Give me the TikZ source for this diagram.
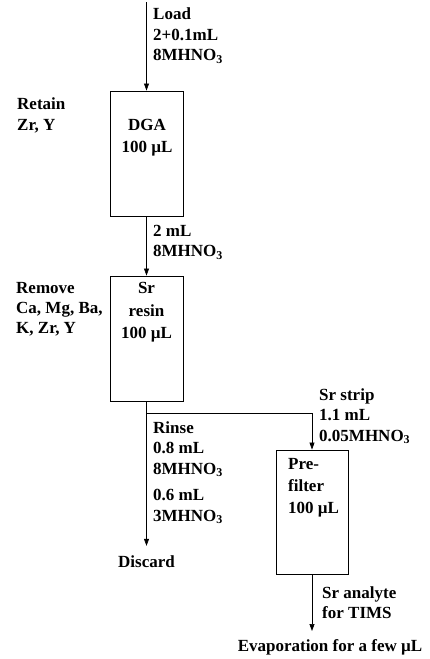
\documentclass[tikz,border=0pt]{standalone}
\usepackage{fontspec}
\setmainfont{Liberation Serif}
\usetikzlibrary{arrows.meta}
\newcommand\subthree{\raisebox{-0.35ex}{\fontsize{12}{12}\selectfont 3}}
\begin{document}
\begin{tikzpicture}[x=1pt,y=-1pt,
  box/.style={draw, line width=0.9pt, inner sep=0pt, minimum width=73pt, minimum height=125pt},
  lbl/.style={anchor=north west, align=left, inner sep=0pt, font=\bfseries\fontsize{17}{20.5}\selectfont},
  inlbl/.style={align=center, inner sep=0pt, font=\bfseries\fontsize{17}{22.5}\selectfont},
  flow/.style={-{Triangle[length=7pt,width=5pt]}, line width=0.7pt}]
\useasboundingbox (0,0) rectangle (430,659);
% boxes
\node[box] (dga) at (146.5,153.5) {};
\node[box] (sr) at (146.5,338.5) {};
\node[box, minimum width=72pt, minimum height=124pt] (pre) at (312,512) {};
% box texts
\node[inlbl] (dgat) at (147,137.5) {DGA\\100 µL};
\node[inlbl] (srt) at (146.5,312.5) {Sr\\resin\\100 µL};
\node[lbl, font=\bfseries\fontsize{17}{22}\selectfont] (pret) at (288,458) {Pre-\\filter\\100 µL};
% side labels
\node[lbl] (loadt) at (153,8) {Load\\2+0.1mL\\8MHNO\subthree};
\node[lbl] (retain) at (17,98) {Retain\\Zr, Y};
\node[lbl] (twoml) at (153,225) {2 mL\\8MHNO\subthree};
\node[lbl, font=\bfseries\fontsize{17}{20}\selectfont] (remove) at (16,282) {Remove\\Ca, Mg, Ba,\\K, Zr, Y};
\node[lbl] (rinse) at (153,421) {Rinse\\0.8 mL\\8MHNO\subthree};
\node[lbl] (rinse2) at (153,489) {0.6 mL\\3MHNO\subthree};
\node[lbl] (strip) at (319,388) {Sr strip\\1.1 mL\\0.05MHNO\subthree};
\node[lbl] (analyte) at (322,586) {Sr analyte\\for TIMS};
\node[lbl, anchor=center] (discard) at (146.5,562) {Discard};
\node[lbl, anchor=center] (evap) at (330,647) {Evaporation for a few µL};
% connectors
\coordinate (ltop) at (146.5,2);
\coordinate (br) at (146.5,413);
\draw[flow] (ltop) -- (dga.north);
\draw[flow] (dga.south) -- (sr.north);
\draw[flow, shorten >=10pt] (sr.south) -- (discard.north);
\draw[flow] (br) -| (pre.north);
\draw[flow, shorten >=8pt] (pre.south) -- (pre.south |- evap.north);
\end{tikzpicture}
\end{document}
